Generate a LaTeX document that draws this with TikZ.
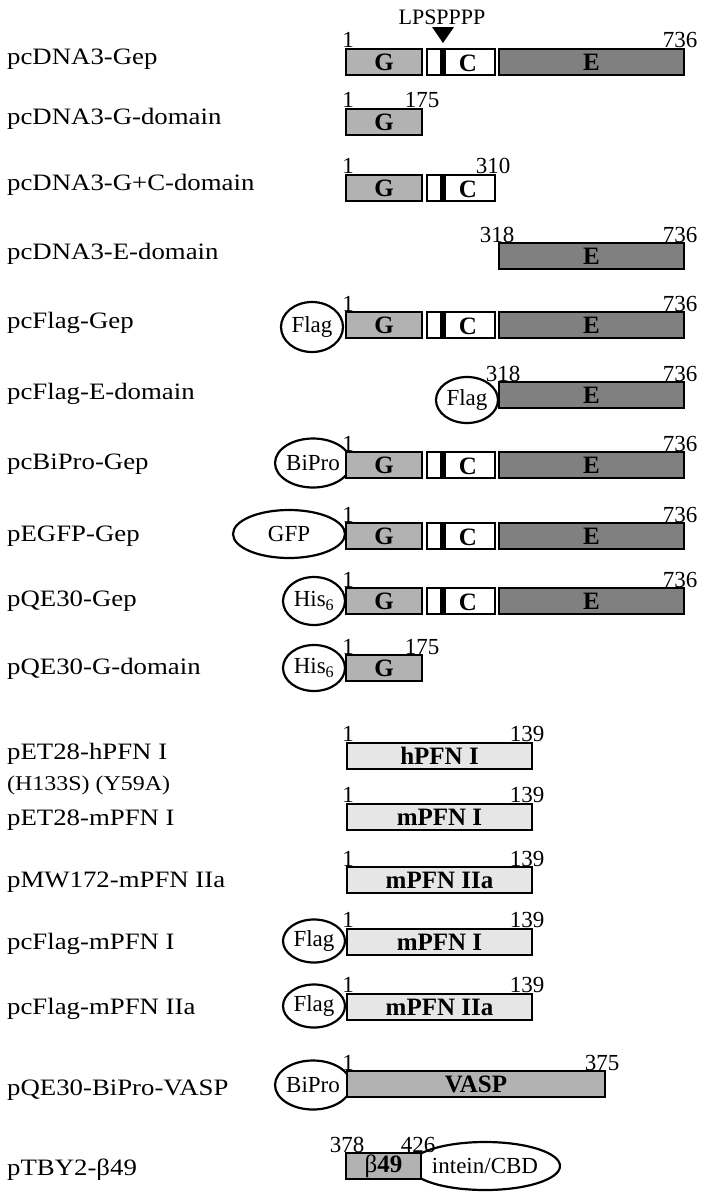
\documentclass[tikz,border=0pt]{standalone}
\usepackage{fontspec}
\usepackage{xcolor}
\usepackage{tikz}
\usetikzlibrary{shapes.geometric, positioning}
\setmainfont{Liberation Serif}
\newfontfamily\lblfont[FakeStretch=1.14]{Liberation Serif}
\definecolor{gfill}{HTML}{B2B2B2}
\definecolor{efill}{HTML}{808080}
\definecolor{pfnfill}{HTML}{E6E6E6}
\tikzstyle{dbox}    = [rectangle, draw=black, line width=1.8pt, minimum height=25.5pt,
                       inner sep=0pt, font=\fontsize{25}{27}\selectfont\bfseries]
\tikzstyle{gbox}    = [dbox, fill=gfill]
\tikzstyle{cbox}    = [dbox, fill=white]
\tikzstyle{ebox}    = [dbox, fill=efill]
\tikzstyle{pfnbox}  = [dbox, fill=pfnfill]
\tikzstyle{cbar}    = [rectangle, fill=black, minimum width=6pt, minimum height=26pt, inner sep=0pt]
\tikzstyle{ctext}   = [inner sep=0pt, font=\fontsize{25}{27}\selectfont\bfseries]
\tikzstyle{tagoval} = [ellipse, draw=black, line width=2.2pt, fill=white, inner sep=0pt,
                       font=\fontsize{23}{25}\selectfont]
\tikzstyle{vlabel}  = [anchor=base west, inner sep=0pt, font=\lblfont\fontsize{23.5}{25}\selectfont]
\tikzstyle{num}     = [anchor=base, inner sep=0pt, font=\fontsize{23}{25}\selectfont]

\begin{document}
\begin{tikzpicture}[x=1pt, y=-1pt]

  \useasboundingbox (0,0) rectangle (706,1200);

  %% pcDNA3-Gep
  \node[vlabel] (l1) at (7,64) {pcDNA3-Gep};
  \node[gbox, minimum width=76pt] (g1) at (384,62) {G};
  \node[cbox, minimum width=68pt] (c1) at (461,62) {};
  \node[cbar] (b1) at (443,62) {};
  \node[ctext] (ct1) at (468,63) {C};
  \node[ebox, minimum width=185pt] (e1) at (591.5,62) {E};
  \node[num] (n1a) at (348,47) {1};
  \node[num] (n1b) at (680,47) {736};
  \node[num, font=\fontsize{22}{24}\selectfont] (motif) at (442,24) {LPSPPPP};
  \coordinate (tip) at (443,43);
  \fill (432,27) -- (454,27) -- (tip) -- cycle;

  %% pcDNA3-G-domain
  \node[vlabel] (l2) at (7,124) {pcDNA3-G-domain};
  \node[gbox, minimum width=76pt] (g2) at (384,122) {G};
  \node[num] (n2a) at (348,107) {1};
  \node[num] (n2b) at (422,107) {175};

  %% pcDNA3-G+C-domain
  \node[vlabel] (l3) at (7,190.5) {pcDNA3-G+C-domain};
  \node[gbox, minimum width=76pt] (g3) at (384,188) {G};
  \node[cbox, minimum width=68pt] (c3) at (461,188) {};
  \node[cbar] (b3) at (443,188) {};
  \node[ctext] (ct3) at (468,189) {C};
  \node[num] (n3a) at (348,173) {1};
  \node[num] (n3b) at (493,173) {310};

  %% pcDNA3-E-domain
  \node[vlabel] (l4) at (7,259) {pcDNA3-E-domain};
  \node[ebox, minimum width=185pt] (e4) at (591.5,256) {E};
  \node[num] (n4a) at (497,242) {318};
  \node[num] (n4b) at (680,242) {736};

  %% pcFlag-Gep
  \node[vlabel] (l5) at (7,328.5) {pcFlag-Gep};
  \node[tagoval, minimum width=62pt, minimum height=50pt] (t5) at (312,327) {Flag};
  \node[gbox, minimum width=76pt] (g5) at (384,325) {G};
  \node[cbox, minimum width=68pt] (c5) at (461,325) {};
  \node[cbar] (b5) at (443,325) {};
  \node[ctext] (ct5) at (468,326) {C};
  \node[ebox, minimum width=185pt] (e5) at (591.5,325) {E};
  \node[num] (n5a) at (348,311) {1};
  \node[num] (n5b) at (680,311) {736};

  %% pcFlag-E-domain
  \node[vlabel] (l6) at (7,399) {pcFlag-E-domain};
  \node[tagoval, minimum width=62pt, minimum height=46pt] (t6) at (467,400) {Flag};
  \node[ebox, minimum width=185pt] (e6) at (591.5,395) {E};
  \node[num] (n6a) at (503,381) {318};
  \node[num] (n6b) at (680,381) {736};

  %% pcBiPro-Gep
  \node[vlabel] (l7) at (7,469.5) {pcBiPro-Gep};
  \node[tagoval, minimum width=62pt, minimum height=49pt] (t7) at (313,463) {BiPro};
  \node[gbox, minimum width=76pt] (g7) at (384,465) {G};
  \node[cbox, minimum width=68pt] (c7) at (461,465) {};
  \node[cbar] (b7) at (443,465) {};
  \node[ctext] (ct7) at (468,466) {C};
  \node[ebox, minimum width=185pt] (e7) at (591.5,465) {E};
  \node[num] (n7a) at (348,451) {1};
  \node[num] (n7b) at (680,451) {736};

  %% pEGFP-Gep
  \node[vlabel] (l8) at (7,541) {pEGFP-Gep};
  \node[tagoval, minimum width=112pt, minimum height=48pt] (t8) at (289,534) {GFP};
  \node[gbox, minimum width=76pt] (g8) at (384,536) {G};
  \node[cbox, minimum width=68pt] (c8) at (461,536) {};
  \node[cbar] (b8) at (443,536) {};
  \node[ctext] (ct8) at (468,537) {C};
  \node[ebox, minimum width=185pt] (e8) at (591.5,536) {E};
  \node[num] (n8a) at (348,522) {1};
  \node[num] (n8b) at (680,522) {736};

  %% pQE30-Gep
  \node[vlabel] (l9) at (7,606.5) {pQE30-Gep};
  \node[tagoval, minimum width=62pt, minimum height=48pt] (t9) at (314,601) {His\textsubscript{6}};
  \node[gbox, minimum width=76pt] (g9) at (384,601) {G};
  \node[cbox, minimum width=68pt] (c9) at (461,601) {};
  \node[cbar] (b9) at (443,601) {};
  \node[ctext] (ct9) at (468,602) {C};
  \node[ebox, minimum width=185pt] (e9) at (591.5,601) {E};
  \node[num] (n9a) at (348,587) {1};
  \node[num] (n9b) at (680,587) {736};

  %% pQE30-G-domain
  \node[vlabel] (l10) at (7,674) {pQE30-G-domain};
  \node[tagoval, minimum width=62pt, minimum height=46pt] (t10) at (314,668) {His\textsubscript{6}};
  \node[gbox, minimum width=76pt] (g10) at (384,668) {G};
  \node[num] (n10a) at (348,654) {1};
  \node[num] (n10b) at (422,654) {175};

  %% profilin constructs
  \node[vlabel] (l11) at (7,759) {pET28-hPFN I};
  \node[vlabel, font=\lblfont\fontsize{21}{23}\selectfont] (l11b) at (7,790) {(H133S) (Y59A)};
  \node[pfnbox, minimum width=185pt] (p11) at (439.5,756) {hPFN I};
  \node[num] (n11a) at (348,741) {1};
  \node[num] (n11b) at (527,741) {139};

  \node[vlabel] (l12) at (7,825) {pET28-mPFN I};
  \node[pfnbox, minimum width=185pt] (p12) at (439.5,817) {mPFN I};
  \node[num] (n12a) at (348,802) {1};
  \node[num] (n12b) at (527,802) {139};

  \node[vlabel] (l13) at (7,887) {pMW172-mPFN IIa};
  \node[pfnbox, minimum width=185pt] (p13) at (439.5,880) {mPFN IIa};
  \node[num] (n13a) at (348,866) {1};
  \node[num] (n13b) at (527,866) {139};

  \node[vlabel] (l14) at (7,949) {pcFlag-mPFN I};
  \node[tagoval, minimum width=62pt, minimum height=43pt] (t14) at (314,941) {Flag};
  \node[pfnbox, minimum width=185pt] (p14) at (439.5,942) {mPFN I};
  \node[num] (n14a) at (348,927) {1};
  \node[num] (n14b) at (527,927) {139};

  \node[vlabel] (l15) at (7,1014) {pcFlag-mPFN IIa};
  \node[tagoval, minimum width=62pt, minimum height=43pt] (t15) at (314,1006) {Flag};
  \node[pfnbox, minimum width=185pt] (p15) at (439.5,1007) {mPFN IIa};
  \node[num] (n15a) at (348,992) {1};
  \node[num] (n15b) at (527,992) {139};

  %% VASP constructs
  \node[vlabel] (l16) at (7,1095) {pQE30-BiPro-VASP};
  \node[tagoval, minimum width=63pt, minimum height=49pt] (t16) at (313,1085) {BiPro};
  \node[gbox, minimum width=258pt] (v16) at (476,1084) {VASP};
  \node[num] (n16a) at (348,1070) {1};
  \node[num] (n16b) at (602,1070) {375};

  \node[vlabel] (l17) at (7,1175) {pTBY2-β49};
  \node[tagoval, minimum width=126pt, minimum height=48pt] (t17) at (485,1166) {intein/CBD};
  \node[gbox, minimum width=75pt] (v17) at (383.5,1166) {\mdseries β\bfseries 49};
  \node[num] (n17a) at (347,1152) {378};
  \node[num] (n17b) at (418,1152) {426};

\end{tikzpicture}
\end{document}
